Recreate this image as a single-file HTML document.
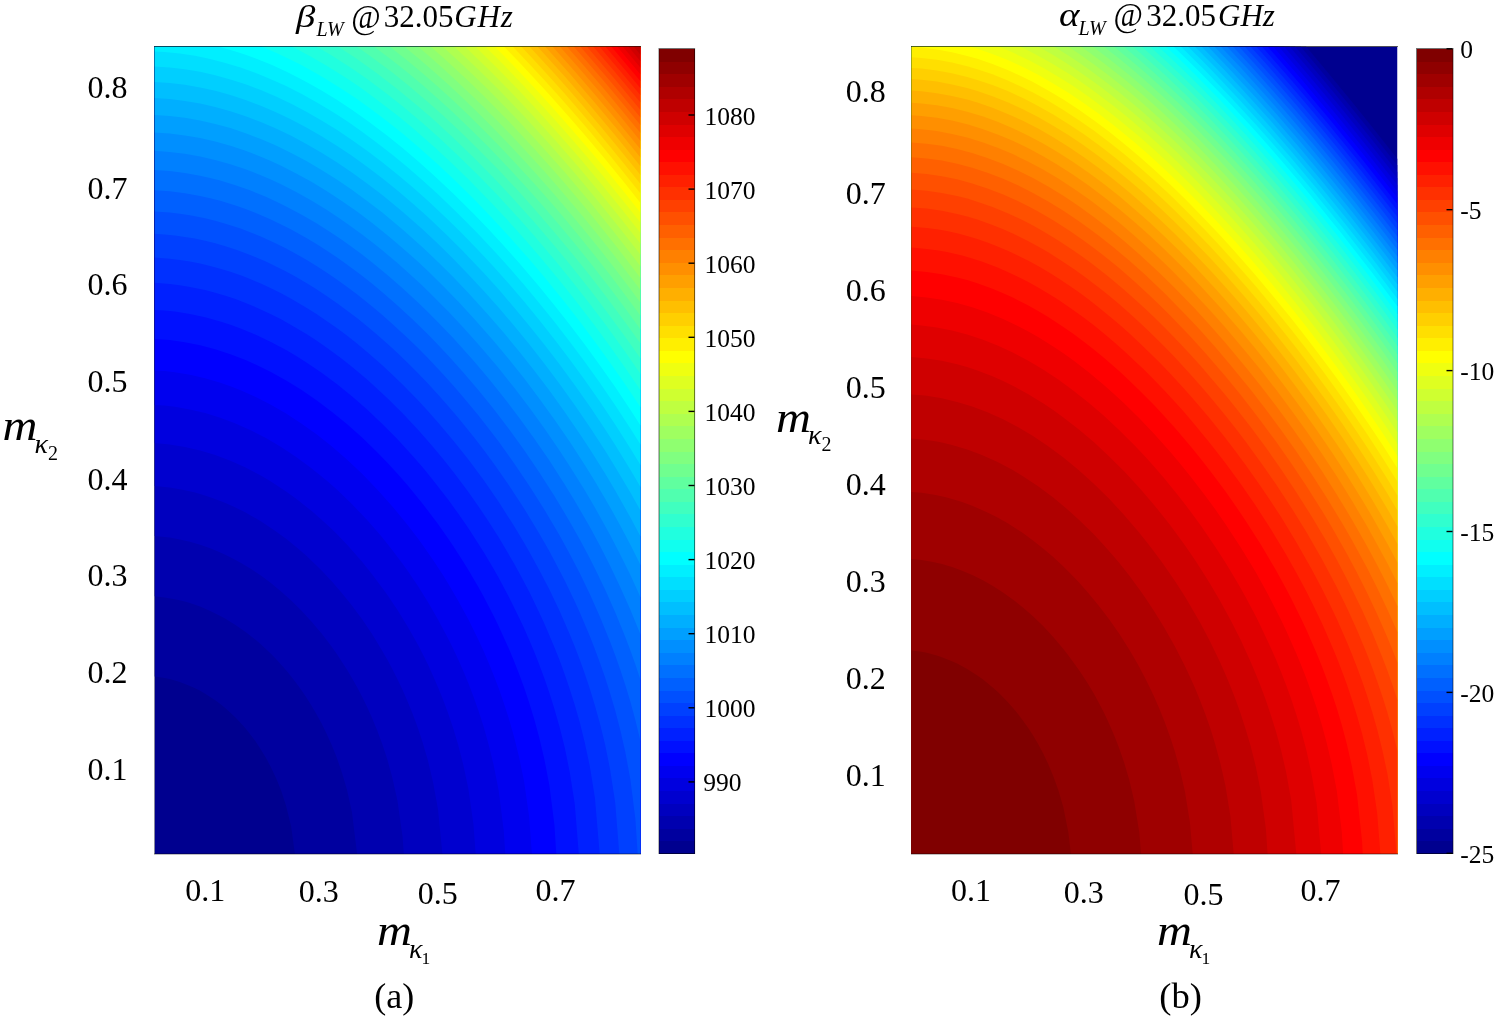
<!DOCTYPE html>
<html><head><meta charset="utf-8"><title>fig</title>
<style>
html,body{margin:0;padding:0;background:#fff}
body{width:1495px;height:1017px;position:relative;overflow:hidden;font-family:"Liberation Serif",serif}
svg .fr{fill:none;stroke:rgba(0,0,0,.55);stroke-width:1}
.cb{position:absolute}
svg{position:absolute;left:0;top:0;will-change:transform}
svg text{font-family:"Liberation Serif",serif;fill:#000}
svg line{stroke:#000;stroke-width:1.4}
svg .f1{stroke:rgba(0,0,0,.6);stroke-width:1.2}
svg .f2{stroke:rgba(0,0,0,.5);stroke-width:1.2}
svg .f3{stroke:rgba(0,0,0,.3);stroke-width:1}
</style></head><body>
<div class="cb" style="left:659px;top:48.5px;width:35.6px;height:805px;background:linear-gradient(180deg,#800000 0.00%,#800000 1.56%,#8f0000 1.56%,#8f0000 3.12%,#9f0000 3.12%,#9f0000 4.69%,#af0000 4.69%,#af0000 6.25%,#bf0000 6.25%,#bf0000 7.81%,#cf0000 7.81%,#cf0000 9.38%,#df0000 9.38%,#df0000 10.94%,#ef0000 10.94%,#ef0000 12.50%,#f00 12.50%,#f00 14.06%,#ff1000 14.06%,#ff1000 15.62%,#ff2000 15.62%,#ff2000 17.19%,#ff3000 17.19%,#ff3000 18.75%,#ff4000 18.75%,#ff4000 20.31%,#ff5000 20.31%,#ff5000 21.88%,#ff6000 21.88%,#ff6000 23.44%,#ff7000 23.44%,#ff7000 25.00%,#ff8000 25.00%,#ff8000 26.56%,#ff8f00 26.56%,#ff8f00 28.12%,#ff9f00 28.12%,#ff9f00 29.69%,#ffaf00 29.69%,#ffaf00 31.25%,#ffbf00 31.25%,#ffbf00 32.81%,#ffcf00 32.81%,#ffcf00 34.38%,#ffdf00 34.38%,#ffdf00 35.94%,#ffef00 35.94%,#ffef00 37.50%,#ff0 37.50%,#ff0 39.06%,#efff10 39.06%,#efff10 40.62%,#dfff20 40.62%,#dfff20 42.19%,#cfff30 42.19%,#cfff30 43.75%,#bfff40 43.75%,#bfff40 45.31%,#afff50 45.31%,#afff50 46.88%,#9fff60 46.88%,#9fff60 48.44%,#8fff70 48.44%,#8fff70 50.00%,#80ff80 50.00%,#80ff80 51.56%,#70ff8f 51.56%,#70ff8f 53.12%,#60ff9f 53.12%,#60ff9f 54.69%,#50ffaf 54.69%,#50ffaf 56.25%,#40ffbf 56.25%,#40ffbf 57.81%,#30ffcf 57.81%,#30ffcf 59.38%,#20ffdf 59.38%,#20ffdf 60.94%,#10ffef 60.94%,#10ffef 62.50%,#0ff 62.50%,#0ff 64.06%,#00efff 64.06%,#00efff 65.62%,#00dfff 65.62%,#00dfff 67.19%,#00cfff 67.19%,#00cfff 68.75%,#00bfff 68.75%,#00bfff 70.31%,#00afff 70.31%,#00afff 71.88%,#009fff 71.88%,#009fff 73.44%,#008fff 73.44%,#008fff 75.00%,#0080ff 75.00%,#0080ff 76.56%,#0070ff 76.56%,#0070ff 78.12%,#0060ff 78.12%,#0060ff 79.69%,#0050ff 79.69%,#0050ff 81.25%,#0040ff 81.25%,#0040ff 82.81%,#0030ff 82.81%,#0030ff 84.38%,#0020ff 84.38%,#0020ff 85.94%,#0010ff 85.94%,#0010ff 87.50%,#00f 87.50%,#00f 89.06%,#0000ef 89.06%,#0000ef 90.62%,#0000df 90.62%,#0000df 92.19%,#0000cf 92.19%,#0000cf 93.75%,#0000bf 93.75%,#0000bf 95.31%,#0000af 95.31%,#0000af 96.88%,#00009f 96.88%,#00009f 98.44%,#00008f 98.44%,#00008f 100.00%)"></div>
<div class="cb" style="left:1416.5px;top:48.5px;width:36.5px;height:805px;background:linear-gradient(180deg,#800000 0.00%,#800000 1.56%,#8f0000 1.56%,#8f0000 3.12%,#9f0000 3.12%,#9f0000 4.69%,#af0000 4.69%,#af0000 6.25%,#bf0000 6.25%,#bf0000 7.81%,#cf0000 7.81%,#cf0000 9.38%,#df0000 9.38%,#df0000 10.94%,#ef0000 10.94%,#ef0000 12.50%,#f00 12.50%,#f00 14.06%,#ff1000 14.06%,#ff1000 15.62%,#ff2000 15.62%,#ff2000 17.19%,#ff3000 17.19%,#ff3000 18.75%,#ff4000 18.75%,#ff4000 20.31%,#ff5000 20.31%,#ff5000 21.88%,#ff6000 21.88%,#ff6000 23.44%,#ff7000 23.44%,#ff7000 25.00%,#ff8000 25.00%,#ff8000 26.56%,#ff8f00 26.56%,#ff8f00 28.12%,#ff9f00 28.12%,#ff9f00 29.69%,#ffaf00 29.69%,#ffaf00 31.25%,#ffbf00 31.25%,#ffbf00 32.81%,#ffcf00 32.81%,#ffcf00 34.38%,#ffdf00 34.38%,#ffdf00 35.94%,#ffef00 35.94%,#ffef00 37.50%,#ff0 37.50%,#ff0 39.06%,#efff10 39.06%,#efff10 40.62%,#dfff20 40.62%,#dfff20 42.19%,#cfff30 42.19%,#cfff30 43.75%,#bfff40 43.75%,#bfff40 45.31%,#afff50 45.31%,#afff50 46.88%,#9fff60 46.88%,#9fff60 48.44%,#8fff70 48.44%,#8fff70 50.00%,#80ff80 50.00%,#80ff80 51.56%,#70ff8f 51.56%,#70ff8f 53.12%,#60ff9f 53.12%,#60ff9f 54.69%,#50ffaf 54.69%,#50ffaf 56.25%,#40ffbf 56.25%,#40ffbf 57.81%,#30ffcf 57.81%,#30ffcf 59.38%,#20ffdf 59.38%,#20ffdf 60.94%,#10ffef 60.94%,#10ffef 62.50%,#0ff 62.50%,#0ff 64.06%,#00efff 64.06%,#00efff 65.62%,#00dfff 65.62%,#00dfff 67.19%,#00cfff 67.19%,#00cfff 68.75%,#00bfff 68.75%,#00bfff 70.31%,#00afff 70.31%,#00afff 71.88%,#009fff 71.88%,#009fff 73.44%,#008fff 73.44%,#008fff 75.00%,#0080ff 75.00%,#0080ff 76.56%,#0070ff 76.56%,#0070ff 78.12%,#0060ff 78.12%,#0060ff 79.69%,#0050ff 79.69%,#0050ff 81.25%,#0040ff 81.25%,#0040ff 82.81%,#0030ff 82.81%,#0030ff 84.38%,#0020ff 84.38%,#0020ff 85.94%,#0010ff 85.94%,#0010ff 87.50%,#00f 87.50%,#00f 89.06%,#0000ef 89.06%,#0000ef 90.62%,#0000df 90.62%,#0000df 92.19%,#0000cf 92.19%,#0000cf 93.75%,#0000bf 93.75%,#0000bf 95.31%,#0000af 95.31%,#0000af 96.88%,#00009f 96.88%,#00009f 98.44%,#00008f 98.44%,#00008f 100.00%)"></div>
<svg width="1495" height="1017" viewBox="0 0 1495 1017">
<defs><clipPath id="ca"><rect x="154.5" y="46.5" width="486" height="807.5" /></clipPath><clipPath id="cb"><rect x="911.5" y="46.5" width="486" height="807.5" /></clipPath></defs>
<g clip-path="url(#ca)">
<rect x="154.5" y="46.5" width="486" height="807.5" fill="#00008f"/>
<path fill="#00009f" d="M154.5 676.5L164.6 678L169.7 679.1L179.8 682L189.9 685.9L195 688.2L200.1 690.8L205.1 693.7L210.2 696.9L215.2 700.3L220.3 704.1L225.4 708.2L230.4 712.7L235.5 717.6L240.6 722.9L245.6 728.6L250.7 734.9L255.8 741.8L260.8 749.4L265.9 757.8L270.9 767.3L276 778L281.1 790.6L286.1 805.9L291.2 826.8L294.9 854L640.5 854L640.5 46.5L154.5 46.5z"/>
<path fill="#0000af" d="M154.5 596.2L164.6 597.4L174.8 599.2L184.9 601.6L189.9 603.1L200.1 606.6L210.2 610.9L220.3 615.9L225.4 618.7L235.5 624.9L245.6 631.9L255.8 639.9L260.8 644.2L270.9 653.8L276 658.9L286.1 670.3L291.2 676.5L296.2 683L301.3 690.1L306.4 697.5L311.4 705.6L316.5 714.2L321.6 723.6L326.6 733.8L331.7 745.1L336.8 757.8L341.8 772.3L346.9 789.6L351.9 812.1L357.1 854L640.5 854L640.5 46.5L154.5 46.5z"/>
<path fill="#0000bf" d="M154.5 536L164.6 536.9L169.7 537.6L179.8 539.4L189.9 541.8L200.1 544.7L210.2 548.3L220.3 552.5L230.4 557.3L240.6 562.7L250.7 568.8L260.8 575.6L270.9 583.1L281.1 591.4L291.2 600.5L301.3 610.5L311.4 621.4L321.6 633.5L331.7 646.8L336.8 654L346.9 669.5L351.9 678L357 687L362.1 696.7L367.1 707.1L372.2 718.3L377.2 730.6L382.3 744.3L387.4 759.8L392.4 778.1L397.5 801.1L402.6 837L403.8 854L640.5 854L640.5 46.5L154.5 46.5z"/>
<path fill="#0000cf" d="M154.5 486.1L164.6 487L169.7 487.6L179.8 489.2L184.9 490.2L195 492.6L200.1 494L210.2 497.2L220.3 500.9L225.4 503L235.5 507.5L245.6 512.6L250.7 515.4L260.8 521.3L270.9 527.9L276 531.4L286.1 538.8L296.2 547L306.4 555.8L316.5 565.4L321.6 570.5L331.7 581.2L341.8 592.9L351.9 605.5L362.1 619.3L372.2 634.3L382.3 650.9L387.4 659.8L392.4 669.3L397.5 679.3L402.6 690L407.6 701.5L412.7 714L417.8 727.7L422.8 743L427.9 760.5L432.9 781.5L438 809.2L442.4 854L640.5 854L640.5 46.5L154.5 46.5z"/>
<path fill="#0000df" d="M154.5 443.1L169.7 444.4L184.9 446.9L200.1 450.4L215.2 455L230.4 460.7L245.6 467.5L260.8 475.5L270.9 481.4L286.1 491.4L296.2 498.7L311.4 510.8L321.6 519.7L331.7 529.1L336.8 534.1L346.9 544.6L357 555.9L362.1 561.8L372.2 574.4L382.3 587.9L387.4 595L397.5 610.1L407.6 626.6L417.8 644.6L422.8 654.3L427.9 664.6L432.9 675.5L438 687.2L443.1 699.7L448.1 713.3L453.2 728.3L458.2 745.1L463.3 764.7L468.4 788.8L473.4 823.8L475.7 854L640.5 854L640.5 46.5L154.5 46.5z"/>
<path fill="#0000ef" d="M154.5 404.9L164.6 405.6L174.8 406.8L189.9 409.5L205.1 413.1L220.3 417.8L235.5 423.5L250.7 430.3L265.9 438.1L281.1 447L296.2 457L311.4 468.2L326.6 480.6L336.8 489.5L351.9 504.1L367.1 520L377.2 531.6L382.3 537.6L392.4 550.2L402.6 563.7L407.6 570.8L417.8 585.8L427.9 601.9L438 619.4L448.1 638.5L453.2 648.7L458.2 659.6L463.3 671L468.4 683.3L473.4 696.5L478.5 710.8L483.6 726.6L488.6 744.4L493.7 765.2L498.8 791.3L503.8 831.2L505.3 854L640.5 854L640.5 46.5L154.5 46.5z"/>
<path fill="#00f" d="M154.5 370.4L164.6 371.1L174.8 372.3L189.9 374.8L205.1 378.3L220.3 382.8L230.4 386.3L240.6 390.3L255.8 397L270.9 404.8L286.1 413.6L301.3 423.4L316.5 434.3L331.7 446.3L346.9 459.4L362.1 473.8L377.2 489.4L392.4 506.4L407.6 524.9L417.8 538.2L422.8 545.2L432.9 559.8L443.1 575.3L448.1 583.5L458.2 600.8L468.4 619.5L478.5 640L483.6 651.1L488.6 662.7L493.7 675.2L498.8 688.5L503.8 702.9L508.9 718.7L513.9 736.3L519 756.7L524.1 781.6L529.1 816.4L531.9 854L640.5 854L640.5 46.5L154.5 46.5z"/>
<path fill="#0010ff" d="M154.5 338.9L169.7 340.1L184.9 342.2L200.1 345.3L215.2 349.3L230.4 354.2L245.6 360.1L260.8 366.9L270.9 372L286.1 380.4L301.3 389.8L316.5 400.2L331.7 411.7L346.9 424.1L362.1 437.6L377.2 452.3L387.4 462.8L397.5 473.8L407.6 485.3L422.8 503.9L438 524L448.1 538.4L453.2 546L463.3 561.7L468.4 570L478.5 587.3L483.6 596.5L493.7 616L498.8 626.4L508.9 648.7L513.9 660.8L519 673.7L524.1 687.5L529.1 702.5L534.2 719L539.2 737.4L544.3 758.9L549.4 785.4L554.4 824.8L556.3 854L640.5 854L640.5 46.5L154.5 46.5z"/>
<path fill="#0020ff" d="M154.5 309.9L164.6 310.5L174.8 311.6L189.9 314L205.1 317.2L220.3 321.4L230.4 324.7L240.6 328.4L255.8 334.7L270.9 342L286.1 350.1L296.2 356.1L306.4 362.4L321.6 372.7L336.8 384L351.9 396.3L367.1 409.6L382.3 423.9L397.5 439.3L412.7 455.9L422.8 467.6L432.9 480L448.1 499.6L458.2 513.6L468.4 528.3L478.5 543.9L483.6 552.1L493.7 569.1L498.8 578.1L508.9 597L519 617.4L524.1 628.3L529.1 639.8L534.2 651.8L539.2 664.6L544.3 678.3L549.4 693L554.4 709L559.5 726.8L564.6 747.1L569.6 771.4L574.7 803.6L578.8 854L640.5 854L640.5 46.5L154.5 46.5z"/>
<path fill="#0030ff" d="M154.5 282.8L169.7 284L179.8 285.2L189.9 286.9L205.1 290.1L215.2 292.7L225.4 295.7L235.5 299.1L245.6 302.9L260.8 309.4L270.9 314.2L281.1 319.3L296.2 327.9L306.4 334L316.5 340.6L331.7 351.2L341.8 358.8L351.9 366.8L367.1 379.6L377.2 388.7L387.4 398.2L402.6 413.3L417.8 429.4L432.9 446.7L443.1 458.9L453.2 471.7L468.4 492L478.5 506.4L488.6 521.6L498.8 537.5L503.8 545.9L513.9 563.3L519 572.4L529.1 591.6L539.2 612.4L544.3 623.5L554.4 647.2L559.5 660.1L564.6 673.9L569.6 688.7L574.7 704.8L579.8 722.5L584.8 742.7L589.9 766.7L594.9 797.8L599.7 854L640.5 854L640.5 46.5L154.5 46.5z"/>
<path fill="#0040ff" d="M154.5 257.6L169.7 258.7L179.8 259.9L189.9 261.5L200.1 263.5L210.2 265.9L220.3 268.7L230.4 271.8L240.6 275.3L250.7 279.3L260.8 283.6L270.9 288.2L281.1 293.3L291.2 298.8L306.4 307.7L316.5 314.1L326.6 320.9L336.8 328.1L346.9 335.6L357 343.6L367.1 352L382.3 365.3L392.4 374.7L402.6 384.5L417.8 400L427.9 411L438 422.4L453.2 440.4L468.4 459.6L483.6 480.1L498.8 502.1L513.9 525.8L524.1 542.7L529.1 551.5L539.2 569.9L549.4 589.6L559.5 610.8L569.6 634L574.7 646.5L579.8 659.7L584.8 673.7L589.9 688.9L594.9 705.4L600 723.7L605.1 744.5L610.1 769.4L615.2 802.5L619.3 854L640.5 854L640.5 46.5L154.5 46.5z"/>
<path fill="#0050ff" d="M154.5 233.8L164.6 234.5L174.8 235.5L184.9 236.9L195 238.6L205.1 240.8L215.2 243.3L225.4 246.2L235.5 249.5L245.6 253.2L255.8 257.2L265.9 261.6L276 266.4L286.1 271.6L296.2 277.1L306.4 283L316.5 289.3L326.6 295.9L336.8 303L346.9 310.4L357 318.1L367.1 326.3L377.2 334.8L387.4 343.8L397.5 353.1L407.6 362.8L417.8 373L427.9 383.5L438 394.5L448.1 405.9L458.2 417.8L473.4 436.6L483.6 449.7L493.7 463.5L508.9 485.2L524.1 508.4L539.2 533.5L549.4 551.3L554.4 560.7L564.6 580.2L574.7 601.3L579.8 612.4L589.9 636.3L594.9 649.2L600 662.9L605.1 677.5L610.1 693.3L615.2 710.5L620.2 729.8L625.3 752.1L630.4 779.5L635.4 819.2L637.7 854L640.5 854L640.5 46.5L154.5 46.5z"/>
<path fill="#0060ff" d="M154.5 211.4L169.7 212.5L179.8 213.7L189.9 215.2L205.1 218.3L215.2 220.8L225.4 223.7L240.6 228.6L250.7 232.4L260.8 236.6L276 243.5L286.1 248.6L296.2 254L306.4 259.8L316.5 266L326.6 272.5L336.8 279.4L346.9 286.7L357 294.3L372.2 306.4L382.3 315L392.4 323.9L407.6 337.9L417.8 347.8L427.9 358.1L443.1 374.2L453.2 385.5L463.3 397.2L478.5 415.6L488.6 428.5L498.8 441.8L513.9 462.9L529.1 485.4L544.3 509.4L559.5 535.3L569.6 553.7L579.8 573.3L589.9 594.3L600 617L610.1 641.8L615.2 655.3L620.2 669.6L625.3 685L630.4 701.7L635.4 720.2L640.5 741.3L640.5 46.5L154.5 46.5z"/>
<path fill="#0070ff" d="M154.5 190.2L169.7 191.3L184.9 193.2L200.1 195.9L210.2 198.2L220.3 200.8L235.5 205.5L245.6 209L255.8 213L270.9 219.5L281.1 224.4L291.2 229.5L306.4 238L316.5 244.1L326.6 250.5L336.8 257.3L346.9 264.4L362.1 275.8L372.2 283.8L382.3 292.2L397.5 305.4L412.7 319.4L427.9 334.3L438 344.7L448.1 355.5L463.3 372.4L478.5 390.2L493.7 409L508.9 428.9L524.1 449.9L539.2 472.2L554.4 495.9L569.6 521.4L579.8 539.4L589.9 558.5L594.9 568.5L605.1 589.6L615.2 612.3L625.3 637L630.4 650.4L635.4 664.6L640.5 679.9L640.5 46.5L154.5 46.5z"/>
<path fill="#0080ff" d="M154.5 170L169.7 171.1L184.9 173L200.1 175.7L210.2 177.9L220.3 180.6L235.5 185.2L250.7 190.6L265.9 196.8L276 201.4L286.1 206.4L301.3 214.4L316.5 223.3L331.7 232.9L341.8 239.8L351.9 247L362.1 254.5L372.2 262.4L387.4 274.9L402.6 288.2L417.8 302.2L427.9 312L438 322.2L453.2 338.1L463.3 349.2L473.4 360.6L488.6 378.6L503.8 397.5L519 417.4L534.2 438.4L549.4 460.6L564.6 484.2L574.7 500.7L589.9 527.1L600 545.8L610.1 565.7L620.2 586.9L630.4 609.7L640.5 634.6L640.5 46.5L154.5 46.5z"/>
<path fill="#008fff" d="M154.5 150.8L169.7 151.9L184.9 153.7L200.1 156.4L215.2 159.9L230.4 164.2L245.6 169.3L260.8 175.2L270.9 179.6L281.1 184.3L296.2 192L311.4 200.6L326.6 209.8L336.8 216.4L346.9 223.4L362.1 234.4L372.2 242.2L382.3 250.3L397.5 263.1L412.7 276.7L422.8 286.1L432.9 295.9L448.1 311.3L463.3 327.4L478.5 344.4L488.6 356.2L498.8 368.3L513.9 387.3L529.1 407.3L544.3 428.3L559.5 450.4L569.6 465.9L584.8 490.3L594.9 507.5L610.1 534.9L620.2 554.4L630.4 575.1L640.5 597.3L640.5 46.5L154.5 46.5z"/>
<path fill="#009fff" d="M154.5 132.5L169.7 133.5L184.9 135.4L200.1 138L215.2 141.5L230.4 145.8L245.6 150.8L260.8 156.7L270.9 161L281.1 165.7L296.2 173.4L311.4 181.8L326.6 191L341.8 200.9L357 211.6L372.2 223L387.4 235.2L397.5 243.7L407.6 252.5L417.8 261.6L427.9 271.1L443.1 286L458.2 301.6L473.4 317.9L493.7 341L508.9 359.2L524.1 378.3L539.2 398.4L554.4 419.4L569.6 441.6L584.8 465L594.9 481.3L610.1 507.2L620.2 525.5L630.4 544.7L640.5 565.1L640.5 46.5L154.5 46.5z"/>
<path fill="#00afff" d="M154.5 114.9L169.7 116L184.9 117.8L200.1 120.5L215.2 123.9L230.4 128.1L245.6 133.2L260.8 139L276 145.6L291.2 152.9L306.4 161L321.6 169.9L336.8 179.5L351.9 189.8L367.1 200.9L382.3 212.6L392.4 220.9L402.6 229.4L422.8 247.5L438 261.9L453.2 277L468.4 292.9L488.6 315.2L503.8 332.8L519 351.2L534.2 370.4L549.4 390.6L564.6 411.7L579.8 433.9L589.9 449.3L605.1 473.6L615.2 490.5L630.4 517.5L640.5 536.5L640.5 46.5L154.5 46.5z"/>
<path fill="#00bfff" d="M154.5 98.1L169.7 99.1L184.9 101L200.1 103.6L215.2 107L230.4 111.2L245.6 116.2L260.8 122L276 128.5L291.2 135.8L306.4 143.9L321.6 152.7L336.8 162.2L351.9 172.5L367.1 183.4L382.3 195.1L402.6 211.7L422.8 229.6L438 243.8L453.2 258.7L468.4 274.4L483.6 290.7L498.8 307.7L513.9 325.5L529.1 344.1L544.3 363.5L559.5 383.8L574.7 405L589.9 427.2L605.1 450.6L615.2 466.9L630.4 492.6L640.5 510.6L640.5 46.5L154.5 46.5z"/>
<path fill="#00cfff" d="M154.5 81.9L169.7 83L184.9 84.8L200.1 87.4L215.2 90.8L230.4 95L245.6 100L260.8 105.7L276 112.2L291.2 119.5L306.4 127.5L321.6 136.2L336.8 145.7L351.9 155.8L367.1 166.7L382.3 178.3L397.5 190.6L412.7 203.5L427.9 217.1L448.1 236.3L463.3 251.5L483.6 272.8L498.8 289.6L513.9 307.2L529.1 325.4L544.3 344.4L559.5 364.3L574.7 385L589.9 406.6L605.1 429.3L615.2 445L630.4 469.7L640.5 486.9L640.5 46.5L154.5 46.5z"/>
<path fill="#00dfff" d="M154.5 66.4L169.7 67.4L184.9 69.2L200.1 71.8L215.2 75.2L230.4 79.4L245.6 84.3L260.8 90L276 96.5L291.2 103.7L306.4 111.7L321.6 120.4L336.8 129.8L351.9 139.9L367.1 150.7L382.3 162.2L397.5 174.4L412.7 187.2L427.9 200.7L448.1 219.7L463.3 234.8L478.5 250.4L493.7 266.8L508.9 283.8L524.1 301.6L539.2 320L554.4 339.2L569.6 359.2L584.8 380L600 401.8L615.2 424.5L630.4 448.4L640.5 465L640.5 46.5L154.5 46.5z"/>
<path fill="#00efff" d="M154.5 51.4L164.6 52L179.8 53.5L195 55.8L210.2 59L225.4 62.9L240.6 67.5L255.8 73L270.9 79.2L286.1 86.1L301.3 93.8L316.5 102.2L331.7 111.3L346.9 121.1L362.1 131.7L377.2 142.9L392.4 154.7L407.6 167.2L422.8 180.4L438 194.2L458.2 213.7L478.5 234.2L493.7 250.4L508.9 267.2L524.1 284.7L539.2 302.9L554.4 321.8L569.6 341.4L584.8 361.8L600 383.1L615.2 405.3L630.4 428.5L640.5 444.6L640.5 46.5L154.5 46.5z"/>
<path fill="#0ff" d="M154.5 46.5L218.5 46.5L235.5 51.4L245.6 54.7L255.8 58.4L270.9 64.6L286.1 71.5L301.3 79.2L311.4 84.7L321.6 90.5L336.8 99.8L351.9 109.8L367.1 120.5L387.4 135.8L402.6 148L417.8 160.9L432.9 174.4L453.2 193.4L473.4 213.5L488.6 229.3L503.8 245.7L519 262.8L539.2 286.6L554.4 305.2L569.6 324.5L584.8 344.6L600 365.4L615.2 387.1L630.4 409.7L640.5 425.4L640.5 46.5L154.5 46.5z"/>
<path fill="#10ffef" d="M154.5 46.5L261.1 46.5L276 52.8L291.2 59.9L301.3 65.1L316.5 73.4L326.6 79.4L341.8 88.9L357 99.1L372.2 109.9L387.4 121.4L402.6 133.6L417.8 146.4L438 164.4L453.2 178.7L473.4 198.6L493.7 219.7L508.9 236.2L529.1 259.1L544.3 277L564.6 302L579.8 321.5L594.9 341.7L610.1 362.7L625.3 384.5L640.5 407.3L640.5 46.5L154.5 46.5z"/>
<path fill="#20ffdf" d="M154.5 46.5L291.6 46.5L301.3 51.4L311.4 56.9L326.6 65.7L341.8 75.2L351.9 81.8L362.1 88.8L377.2 99.9L397.5 115.6L412.7 128.1L432.9 145.8L448.1 159.7L468.4 179.3L488.6 199.9L503.8 216L524.1 238.5L539.2 256L559.5 280.4L574.7 299.4L594.9 325.8L610.1 346.5L625.3 367.9L640.5 390.2L640.5 46.5L154.5 46.5z"/>
<path fill="#30ffcf" d="M154.5 46.5L316.4 46.5L331.7 55.5L341.8 61.9L351.9 68.6L367.1 79.1L387.4 94.2L402.6 106.3L422.8 123.3L438 136.8L458.2 155.7L478.5 175.6L498.8 196.6L519 218.6L534.2 235.8L554.4 259.6L569.6 278.2L589.9 304L605.1 324.1L625.3 352L640.5 373.9L640.5 46.5L154.5 46.5z"/>
<path fill="#40ffbf" d="M154.5 46.5L337.8 46.5L341.8 49.1L357 59.1L377.2 73.6L397.5 89.2L417.8 105.9L432.9 119.1L453.2 137.7L473.4 157.2L493.7 177.8L513.9 199.4L534.2 222L554.4 245.7L569.6 264.1L589.9 289.5L605.1 309.4L625.3 336.9L640.5 358.4L640.5 46.5L154.5 46.5z"/>
<path fill="#50ffaf" d="M154.5 46.5L356.7 46.5L372.2 57.4L392.4 72.6L407.6 84.8L427.9 102L443.1 115.5L463.3 134.5L478.5 149.4L498.8 170.1L519 191.8L534.2 208.8L554.4 232.2L569.6 250.4L589.9 275.6L605.1 295.3L625.3 322.4L640.5 343.6L640.5 46.5L154.5 46.5z"/>
<path fill="#60ff9f" d="M154.5 46.5L373.9 46.5L392.4 60.5L407.6 72.6L422.8 85.3L438 98.7L453.2 112.5L473.4 131.9L488.6 147.1L508.9 168.2L529.1 190.3L544.3 207.5L559.5 225.2L574.7 243.4L594.9 268.7L610.1 288.3L625.3 308.5L640.5 329.4L640.5 46.5L154.5 46.5z"/>
<path fill="#70ff8f" d="M154.5 46.5L389.6 46.5L407.6 60.8L422.8 73.5L438 86.7L453.2 100.6L468.4 115L483.6 129.9L498.8 145.4L513.9 161.4L534.2 183.6L549.4 200.8L564.6 218.6L579.8 236.9L594.9 255.7L610.1 275.1L625.3 295.2L640.5 315.8L640.5 46.5L154.5 46.5z"/>
<path fill="#80ff80" d="M154.5 46.5L404.2 46.5L417.8 57.7L432.9 70.7L448.1 84.3L463.3 98.5L478.5 113.2L493.7 128.4L508.9 144.2L524.1 160.4L539.2 177.2L554.4 194.5L569.6 212.4L584.8 230.7L600 249.6L615.2 269L630.4 289L640.5 302.7L640.5 46.5L154.5 46.5z"/>
<path fill="#8fff70" d="M154.5 46.5L417.8 46.5L427.9 55.1L443.1 68.5L458.2 82.4L473.4 96.9L483.6 106.8L498.8 122.2L513.9 138L529.1 154.4L544.3 171.3L559.5 188.7L584.8 218.7L600 237.5L615.2 256.7L640.5 290.1L640.5 46.5L154.5 46.5z"/>
<path fill="#9fff60" d="M154.5 46.5L430.5 46.5L443.1 57.6L458.2 71.5L468.4 81L483.6 95.8L508.9 121.6L534.2 148.7L549.4 165.7L564.6 183.1L589.9 213.3L615.2 244.9L640.5 277.9L640.5 46.5L154.5 46.5z"/>
<path fill="#afff50" d="M154.5 46.5L442.6 46.5L463.3 65.5L473.4 75.2L488.6 90.1L513.9 116L539.2 143.4L564.6 172L589.9 202L615.2 233.4L640.5 266.2L640.5 46.5L154.5 46.5z"/>
<path fill="#bfff40" d="M154.5 46.5L454 46.5L478.5 69.7L498.8 89.8L524.1 116.2L549.4 144L574.7 173L594.9 197.2L620.2 228.7L640.5 254.8L640.5 46.5L154.5 46.5z"/>
<path fill="#cfff30" d="M154.5 46.5L464.9 46.5L488.6 69.5L508.9 90L529.1 111.4L554.4 139.3L579.8 168.5L600 192.7L620.2 217.8L640.5 243.8L640.5 46.5L154.5 46.5z"/>
<path fill="#dfff20" d="M154.5 46.5L475.3 46.5L498.8 69.7L519 90.6L539.2 112.3L559.5 134.9L579.8 158.2L600 182.4L620.2 207.3L640.5 233.1L640.5 46.5L154.5 46.5z"/>
<path fill="#efff10" d="M154.5 46.5L485.2 46.5L503.8 65.1L524.1 86.2L544.3 108.1L564.6 130.7L584.8 154.2L605.1 178.4L625.3 203.4L640.5 222.7L640.5 46.5L154.5 46.5z"/>
<path fill="#ff0" d="M154.5 46.5L494.7 46.5L513.9 66.1L534.2 87.5L549.4 104.1L569.6 126.9L589.9 150.4L605.1 168.6L625.3 193.5L640.5 212.7L640.5 46.5L154.5 46.5z"/>
<path fill="#ffef00" d="M154.5 46.5L503.9 46.5L519 62.1L534.2 78.2L549.4 94.7L569.6 117.4L584.8 135L605.1 159L625.3 183.8L640.5 202.9L640.5 46.5L154.5 46.5z"/>
<path fill="#ffdf00" d="M154.5 46.5L512.7 46.5L529.1 63.7L544.3 80.1L559.5 96.8L574.7 114L589.9 131.6L610.1 155.8L625.3 174.4L640.5 193.4L640.5 46.5L154.5 46.5z"/>
<path fill="#ffcf00" d="M154.5 46.5L521.2 46.5L534.2 60.2L549.4 76.7L564.6 93.6L579.8 110.9L594.9 128.6L610.1 146.7L625.3 165.2L640.5 184.1L640.5 46.5L154.5 46.5z"/>
<path fill="#ffbf00" d="M154.5 46.5L529.4 46.5L554.4 73.6L569.6 90.5L584.8 107.9L600 125.7L615.2 143.9L640.5 175.1L640.5 46.5L154.5 46.5z"/>
<path fill="#ffaf00" d="M154.5 46.5L537.4 46.5L564.6 76.3L589.9 105.2L615.2 135.2L640.5 166.2L640.5 46.5L154.5 46.5z"/>
<path fill="#ff9f00" d="M154.5 46.5L545.1 46.5L569.6 73.6L594.9 102.7L620.2 132.8L640.5 157.6L640.5 46.5L154.5 46.5z"/>
<path fill="#ff8f00" d="M154.5 46.5L552.5 46.5L574.7 71.2L594.9 94.4L615.2 118.4L640.5 149.2L640.5 46.5L154.5 46.5z"/>
<path fill="#ff8000" d="M154.5 46.5L559.8 46.5L579.8 68.9L600 92.3L620.2 116.3L640.5 141L640.5 46.5L154.5 46.5z"/>
<path fill="#ff7000" d="M154.5 46.5L566.8 46.5L584.8 66.8L605.1 90.3L620.2 108.4L640.5 133L640.5 46.5L154.5 46.5z"/>
<path fill="#ff6000" d="M154.5 46.5L573.7 46.5L589.9 64.9L605.1 82.6L620.2 100.6L640.5 125.1L640.5 46.5L154.5 46.5z"/>
<path fill="#ff5000" d="M154.5 46.5L580.3 46.5L610.1 80.9L640.5 117.4L640.5 46.5L154.5 46.5z"/>
<path fill="#ff4000" d="M154.5 46.5L586.8 46.5L615.2 79.5L640.5 109.9L640.5 46.5L154.5 46.5z"/>
<path fill="#ff3000" d="M154.5 46.5L593.2 46.5L615.2 72.2L640.5 102.5L640.5 46.5L154.5 46.5z"/>
<path fill="#ff2000" d="M154.5 46.5L599.4 46.5L620.2 71L640.5 95.3L640.5 46.5L154.5 46.5z"/>
<path fill="#ff1000" d="M154.5 46.5L605.4 46.5L625.3 70L640.5 88.2L640.5 46.5L154.5 46.5z"/>
<path fill="#f00" d="M154.5 46.5L611.3 46.5L640.5 81.3L640.5 46.5L154.5 46.5z"/>
<path fill="#ef0000" d="M154.5 46.5L617.1 46.5L640.5 74.5L640.5 46.5L154.5 46.5z"/>
<path fill="#df0000" d="M154.5 46.5L622.7 46.5L640.5 67.8L640.5 46.5L154.5 46.5z"/>
<path fill="#cf0000" d="M154.5 46.5L628.2 46.5L640.5 61.2L640.5 46.5L154.5 46.5z"/>
<path fill="#bf0000" d="M154.5 46.5L633.6 46.5L640.5 54.7L640.5 46.5L154.5 46.5z"/>
<path fill="#af0000" d="M154.5 46.5L638.9 46.5L640.5 48.4L640.5 46.5L154.5 46.5z"/>
</g>
<g clip-path="url(#cb)">
<rect x="911.5" y="46.5" width="486" height="807.5" fill="#00008f"/>
<path fill="#00009f" d="M911.5 46.5L1306.1 46.5L1326.6 71L1351.9 101.8L1372.2 127L1397.5 159L1397.5 854L911.5 854z"/>
<path fill="#0000af" d="M911.5 46.5L1300.6 46.5L1321.6 71.4L1346.9 102.1L1372.2 133.5L1397.5 165.5L1397.5 854L911.5 854z"/>
<path fill="#0000bf" d="M911.5 46.5L1295.1 46.5L1321.6 77.8L1346.9 108.5L1372.2 140L1397.5 172L1397.5 854L911.5 854z"/>
<path fill="#0000cf" d="M911.5 46.5L1289.6 46.5L1316.5 78.1L1341.8 108.7L1367.1 140L1397.5 178.5L1397.5 854L911.5 854z"/>
<path fill="#0000df" d="M911.5 46.5L1284.1 46.5L1311.4 78.5L1341.8 115.1L1367.1 146.4L1397.5 185L1397.5 854L911.5 854z"/>
<path fill="#0000ef" d="M911.5 46.5L1278.6 46.5L1306.4 78.8L1336.8 115.2L1367.1 152.8L1397.5 191.4L1397.5 854L911.5 854z"/>
<path fill="#00f" d="M911.5 46.5L1273.1 46.5L1301.3 79.1L1331.7 115.4L1362.1 152.8L1397.5 197.8L1397.5 854L911.5 854z"/>
<path fill="#0010ff" d="M911.5 46.5L1267.5 46.5L1286.1 67.7L1301.3 85.4L1331.7 121.7L1362.1 159.2L1397.5 204.2L1397.5 854L911.5 854z"/>
<path fill="#0020ff" d="M911.5 46.5L1261.9 46.5L1291.2 79.9L1306.4 97.7L1326.6 121.9L1362.1 165.5L1397.5 210.7L1397.5 854L911.5 854z"/>
<path fill="#0030ff" d="M911.5 46.5L1256.2 46.5L1276 68.7L1291.2 86.2L1306.4 104L1326.6 128.2L1341.8 146.8L1362.1 171.9L1397.5 217.1L1397.5 854L911.5 854z"/>
<path fill="#0040ff" d="M911.5 46.5L1250.5 46.5L1265.9 63.6L1286.1 86.7L1301.3 104.4L1321.6 128.5L1336.8 146.9L1357 172L1377.2 197.6L1397.5 223.6L1397.5 854L911.5 854z"/>
<path fill="#0050ff" d="M911.5 46.5L1244.7 46.5L1260.8 64.2L1281.1 87.2L1296.2 104.8L1316.5 128.8L1336.8 153.3L1357 178.4L1377.2 204L1397.5 230.2L1397.5 854L911.5 854z"/>
<path fill="#0060ff" d="M911.5 46.5L1238.9 46.5L1255.8 65L1276 87.7L1296.2 111.1L1316.5 135.2L1336.8 159.7L1357 184.9L1377.2 210.5L1397.5 236.7L1397.5 854L911.5 854z"/>
<path fill="#0070ff" d="M911.5 46.5L1232.9 46.5L1250.7 65.8L1270.9 88.4L1291.2 111.6L1311.4 135.5L1331.7 160L1351.9 185L1377.2 217.1L1397.5 243.4L1397.5 854L911.5 854z"/>
<path fill="#0080ff" d="M911.5 46.5L1226.9 46.5L1245.6 66.6L1265.9 89.1L1286.1 112.2L1311.4 142L1331.7 166.5L1351.9 191.6L1377.2 223.7L1397.5 250.1L1397.5 854L911.5 854z"/>
<path fill="#008fff" d="M911.5 46.5L1220.7 46.5L1240.6 67.6L1260.8 89.9L1281.1 112.9L1306.4 142.5L1326.6 166.9L1351.9 198.2L1377.2 230.4L1397.5 256.8L1397.5 854L911.5 854z"/>
<path fill="#009fff" d="M911.5 46.5L1214.4 46.5L1235.5 68.7L1255.8 90.8L1276 113.6L1301.3 143L1321.6 167.3L1346.9 198.5L1372.2 230.6L1397.5 263.6L1397.5 854L911.5 854z"/>
<path fill="#00afff" d="M911.5 46.5L1208 46.5L1230.4 69.9L1255.8 97.4L1276 120.2L1301.3 149.7L1326.6 180.2L1351.9 211.6L1377.2 243.9L1397.5 270.5L1397.5 854L911.5 854z"/>
<path fill="#00bfff" d="M911.5 46.5L1201.5 46.5L1225.4 71.1L1245.6 92.9L1270.9 121.1L1296.2 150.4L1321.6 180.7L1346.9 212L1372.2 244.3L1397.5 277.5L1397.5 854L911.5 854z"/>
<path fill="#00cfff" d="M911.5 46.5L1194.8 46.5L1215.2 67.3L1240.6 94.1L1265.9 122.1L1291.2 151.2L1316.5 181.4L1346.9 218.9L1372.2 251.3L1397.5 284.6L1397.5 854L911.5 854z"/>
<path fill="#00dfff" d="M911.5 46.5L1187.9 46.5L1200.1 58.6L1215.2 74L1240.6 100.9L1265.9 128.9L1291.2 158.1L1316.5 188.3L1346.9 225.9L1372.2 258.3L1397.5 291.8L1397.5 854L911.5 854z"/>
<path fill="#00efff" d="M911.5 46.5L1180.8 46.5L1205.1 70.5L1230.4 96.9L1255.8 124.5L1270.9 141.6L1286.1 159.1L1311.4 189.1L1341.8 226.6L1372.2 265.5L1397.5 299.1L1397.5 854L911.5 854z"/>
<path fill="#0ff" d="M911.5 46.5L1173.5 46.5L1184.9 57.4L1200.1 72.4L1225.4 98.5L1250.7 125.8L1265.9 142.8L1281.1 160.2L1296.2 178L1311.4 196.2L1341.8 233.8L1372.2 272.8L1397.5 306.6L1397.5 854L911.5 854z"/>
<path fill="#10ffef" d="M911.5 46.5L1165.9 46.5L1179.8 59.6L1195 74.4L1220.3 100.2L1245.6 127.3L1260.8 144.2L1276 161.5L1291.2 179.2L1306.4 197.3L1321.6 215.8L1336.8 234.7L1351.9 254L1367.1 273.6L1382.3 293.7L1397.5 314.2L1397.5 854L911.5 854z"/>
<path fill="#20ffdf" d="M911.5 46.5L1158.1 46.5L1169.7 57.1L1184.9 71.6L1200.1 86.6L1215.2 102.1L1230.4 118.1L1245.6 134.5L1260.8 151.4L1276 168.7L1291.2 186.5L1306.4 204.6L1321.6 223.2L1336.8 242.1L1351.9 261.4L1367.1 281.2L1382.3 301.3L1397.5 321.9L1397.5 854L911.5 854z"/>
<path fill="#30ffcf" d="M911.5 46.5L1150 46.5L1164.6 59.7L1179.8 74L1195 88.8L1210.2 104.1L1225.4 120L1240.6 136.3L1255.8 153.1L1270.9 170.3L1286.1 187.9L1301.3 205.9L1316.5 224.4L1336.8 249.6L1351.9 269L1367.1 288.8L1382.3 309.1L1397.5 329.8L1397.5 854L911.5 854z"/>
<path fill="#40ffbf" d="M911.5 46.5L1141.6 46.5L1154.5 57.9L1169.7 71.8L1184.9 86.2L1200.1 101.2L1215.2 116.8L1230.4 132.8L1245.6 149.3L1265.9 171.9L1281.1 189.5L1296.2 207.4L1311.4 225.8L1331.7 250.9L1351.9 276.8L1367.1 296.7L1382.3 317L1397.5 337.9L1397.5 854L911.5 854z"/>
<path fill="#50ffaf" d="M911.5 46.5L1132.8 46.5L1149.4 60.9L1164.6 74.6L1179.8 88.9L1195 103.7L1210.2 119.1L1225.4 134.9L1240.6 151.3L1260.8 173.8L1276 191.2L1296.2 215.1L1316.5 239.8L1331.7 258.7L1351.9 284.7L1367.1 304.7L1382.3 325.2L1397.5 346.1L1397.5 854L911.5 854z"/>
<path fill="#60ff9f" d="M911.5 46.5L1123.5 46.5L1139.3 59.7L1154.5 73L1169.7 86.9L1189.9 106.3L1205.1 121.5L1220.3 137.3L1235.5 153.5L1255.8 175.8L1270.9 193.1L1291.2 216.9L1311.4 241.4L1326.6 260.3L1346.9 286.2L1362.1 306.2L1382.3 333.5L1397.5 354.6L1397.5 854L911.5 854z"/>
<path fill="#70ff8f" d="M911.5 46.5L1113.8 46.5L1129.2 58.9L1144.4 71.8L1159.6 85.4L1179.8 104.3L1195 119.2L1215.2 139.8L1230.4 155.9L1250.7 178.1L1265.9 195.3L1286.1 218.9L1306.4 243.3L1326.6 268.5L1346.9 294.5L1362.1 314.6L1382.3 342L1397.5 363.3L1397.5 854L911.5 854z"/>
<path fill="#80ff80" d="M911.5 46.5L1103.5 46.5L1119.1 58.6L1134.2 71.1L1149.4 84.2L1169.7 102.7L1184.9 117.2L1205.1 137.4L1225.4 158.5L1245.6 180.5L1260.8 197.6L1281.1 221.1L1301.3 245.4L1321.6 270.5L1341.8 296.4L1362.1 323.2L1382.3 350.8L1397.5 372.2L1397.5 854L911.5 854z"/>
<path fill="#8fff70" d="M911.5 46.5L1092.5 46.5L1108.9 58.8L1129.2 75L1144.4 87.9L1164.6 106.1L1179.8 120.4L1200.1 140.4L1220.3 161.3L1240.6 183.2L1260.8 205.9L1281.1 229.4L1301.3 253.8L1321.6 279L1341.8 305.1L1362.1 332L1382.3 359.8L1397.5 381.4L1397.5 854L911.5 854z"/>
<path fill="#9fff60" d="M911.5 46.5L1080.7 46.5L1088.7 52.1L1103.9 63.2L1124.1 79.1L1139.3 91.8L1159.6 109.7L1174.8 123.9L1195 143.6L1215.2 164.4L1235.5 186L1255.8 208.6L1276 232L1296.2 256.3L1316.5 281.4L1336.8 307.3L1357 334.2L1377.2 362L1397.5 390.9L1397.5 854L911.5 854z"/>
<path fill="#afff50" d="M911.5 46.5L1067.9 46.5L1078.6 53.5L1093.8 64.2L1108.9 75.5L1129.2 91.8L1144.4 104.7L1164.6 122.9L1179.8 137.3L1200.1 157.3L1220.3 178.3L1240.6 200.2L1260.8 223.1L1281.1 246.8L1301.3 271.4L1321.6 296.8L1341.8 323.1L1362.1 350.4L1382.3 378.7L1397.5 400.7L1397.5 854L911.5 854z"/>
<path fill="#bfff40" d="M911.5 46.5L1053.8 46.5L1068.4 55.5L1078.6 62.2L1088.7 69.2L1103.9 80.4L1119.1 92.2L1139.3 109L1154.5 122.4L1174.8 141.2L1189.9 155.9L1210.2 176.5L1230.4 198L1250.7 220.5L1270.9 243.8L1291.2 268.1L1311.4 293.2L1326.6 312.6L1346.9 339.4L1362.1 360.1L1382.3 388.7L1397.5 410.9L1397.5 854L911.5 854z"/>
<path fill="#cfff30" d="M911.5 46.5L1038.1 46.5L1053.2 55.1L1063.4 61.2L1073.5 67.8L1088.7 78.2L1098.8 85.5L1108.9 93.2L1124.1 105.2L1144.4 122.3L1159.6 135.9L1179.8 155L1195 170L1215.2 190.9L1230.4 207.1L1250.7 229.7L1270.9 253.1L1291.2 277.5L1311.4 302.7L1326.6 322.3L1346.9 349.2L1362.1 370.1L1382.3 399L1397.5 421.4L1397.5 854L911.5 854z"/>
<path fill="#dfff20" d="M911.5 46.5L1020 46.5L1033 53L1043.1 58.4L1053.2 64.2L1068.4 73.6L1078.6 80.3L1088.7 87.3L1098.8 94.7L1114 106.3L1129.2 118.6L1149.4 136L1164.6 149.8L1184.9 169.2L1200.1 184.4L1220.3 205.6L1235.5 222.1L1255.8 244.9L1276 268.7L1296.2 293.4L1316.5 319.1L1331.7 338.9L1351.9 366.4L1367.1 387.7L1382.3 409.7L1397.5 432.4L1397.5 854L911.5 854z"/>
<path fill="#efff10" d="M911.5 46.5L998.3 46.5L1012.8 52.6L1027.9 59.8L1043.1 67.8L1058.3 76.7L1073.5 86.3L1088.7 96.7L1103.9 107.9L1114 115.7L1124.1 123.9L1139.3 136.6L1154.5 150.1L1169.7 164.1L1189.9 183.8L1205.1 199.2L1225.4 220.7L1240.6 237.4L1260.8 260.6L1281.1 284.7L1296.2 303.5L1316.5 329.3L1331.7 349.3L1351.9 377L1367.1 398.5L1382.3 420.8L1397.5 443.9L1397.5 854L911.5 854z"/>
<path fill="#ff0" d="M911.5 46.5L969.5 46.5L977.3 48.8L987.4 52.2L997.6 55.9L1007.7 60.1L1022.9 67L1038.1 74.8L1053.2 83.4L1068.4 92.8L1083.6 102.9L1098.8 113.8L1114 125.5L1134.2 142.1L1149.4 155.3L1164.6 169.2L1179.8 183.7L1200.1 203.9L1215.2 219.8L1235.5 241.8L1250.7 259L1270.9 282.8L1291.2 307.6L1306.4 326.8L1321.6 346.6L1336.8 367L1351.9 388.1L1367.1 409.9L1382.3 432.4L1397.5 455.9L1397.5 854L911.5 854z"/>
<path fill="#ffef00" d="M911.5 46.9L921.6 47.6L936.8 49.4L952 52.2L967.2 55.9L977.3 58.8L992.5 64L1007.7 70.1L1022.9 77L1033 82.1L1048.2 90.4L1063.4 99.6L1078.6 109.5L1093.8 120.2L1108.9 131.6L1124.1 143.7L1139.3 156.5L1154.5 170L1169.7 184.1L1184.9 198.8L1205.1 219.4L1220.3 235.6L1235.5 252.3L1255.8 275.4L1270.9 293.4L1291.2 318.3L1306.4 337.7L1321.6 357.7L1336.8 378.3L1351.9 399.6L1367.1 421.7L1382.3 444.6L1397.5 468.4L1397.5 854L911.5 854z"/>
<path fill="#ffdf00" d="M911.5 57.2L921.6 57.9L936.8 59.8L952 62.5L967.2 66.2L977.3 69.2L992.5 74.3L1007.7 80.4L1022.9 87.4L1033 92.5L1048.2 100.8L1063.4 109.9L1078.6 119.9L1093.8 130.6L1108.9 142L1124.1 154.1L1139.3 167L1154.5 180.5L1169.7 194.6L1184.9 209.4L1205.1 230.1L1220.3 246.3L1235.5 263.1L1255.8 286.3L1270.9 304.5L1291.2 329.6L1306.4 349.1L1321.6 369.3L1336.8 390.2L1351.9 411.7L1367.1 434.1L1382.3 457.4L1397.5 481.7L1397.5 854L911.5 854z"/>
<path fill="#ffcf00" d="M911.5 67.9L921.6 68.6L936.8 70.5L952 73.2L967.2 76.9L977.3 79.9L992.5 85.1L1007.7 91.1L1022.9 98.1L1038.1 105.9L1053.2 114.5L1068.4 123.9L1083.6 134.1L1098.8 145.1L1114 156.8L1129.2 169.2L1144.4 182.3L1159.6 196.1L1174.8 210.5L1189.9 225.5L1210.2 246.5L1225.4 263L1245.6 285.9L1260.8 303.8L1276 322.2L1296.2 347.8L1311.4 367.8L1326.6 388.4L1341.8 409.8L1357 431.9L1372.2 455L1387.4 479.1L1397.5 495.8L1397.5 854L911.5 854z"/>
<path fill="#ffbf00" d="M911.5 79.1L921.6 79.8L936.8 81.6L952 84.4L967.2 88L977.3 91L992.5 96.2L1007.7 102.3L1022.9 109.2L1038.1 117L1053.2 125.7L1068.4 135.1L1083.6 145.3L1098.8 156.3L1114 168L1129.2 180.5L1144.4 193.6L1159.6 207.4L1174.8 221.9L1189.9 237L1210.2 258.1L1225.4 274.7L1245.6 297.7L1260.8 315.7L1276 334.4L1296.2 360.2L1311.4 380.4L1326.6 401.3L1341.8 422.9L1357 445.5L1372.2 469L1387.4 493.6L1397.5 510.7L1397.5 854L911.5 854z"/>
<path fill="#ffaf00" d="M911.5 90.6L921.6 91.3L936.8 93.2L952 95.9L967.2 99.6L977.3 102.6L992.5 107.8L1007.7 113.9L1022.9 120.8L1038.1 128.6L1053.2 137.3L1068.4 146.7L1083.6 157L1098.8 168L1114 179.7L1129.2 192.2L1144.4 205.4L1159.6 219.3L1174.8 233.8L1189.9 249L1210.2 270.2L1230.4 292.6L1245.6 310.1L1265.9 334.5L1281.1 353.5L1296.2 373.2L1311.4 393.6L1326.6 414.8L1341.8 436.8L1357 459.8L1372.2 483.8L1387.4 509.1L1397.5 526.7L1397.5 854L911.5 854z"/>
<path fill="#ff9f00" d="M911.5 102.7L921.6 103.4L936.8 105.2L952 108L967.2 111.7L982.4 116.3L997.6 121.8L1012.8 128.2L1027.9 135.4L1043.1 143.6L1058.3 152.5L1073.5 162.2L1088.7 172.8L1103.9 184.1L1119.1 196.1L1134.2 208.9L1149.4 222.3L1164.6 236.5L1179.8 251.3L1195 266.8L1215.2 288.5L1235.5 311.3L1250.7 329.2L1265.9 347.7L1281.1 366.9L1296.2 386.9L1311.4 407.6L1326.6 429.2L1341.8 451.6L1357 475.1L1372.2 499.7L1387.4 525.7L1397.5 543.9L1397.5 854L911.5 854z"/>
<path fill="#ff8f00" d="M911.5 115.3L921.6 116L936.8 117.8L952 120.6L967.2 124.3L982.4 128.9L997.6 134.4L1012.8 140.8L1027.9 148.1L1043.1 156.2L1058.3 165.2L1073.5 175L1088.7 185.5L1103.9 196.9L1119.1 209L1134.2 221.8L1149.4 235.3L1164.6 249.5L1184.9 269.6L1200.1 285.4L1220.3 307.5L1240.6 330.8L1255.8 349.1L1270.9 368.1L1286.1 387.9L1301.3 408.4L1316.5 429.7L1331.7 452L1346.9 475.2L1362.1 499.7L1372.2 516.8L1387.4 543.7L1397.5 562.7L1397.5 854L911.5 854z"/>
<path fill="#ff8000" d="M911.5 128.5L921.6 129.2L936.8 131.1L952 133.9L967.2 137.6L982.4 142.2L997.6 147.7L1012.8 154.1L1027.9 161.4L1043.1 169.6L1058.3 178.6L1073.5 188.4L1088.7 199L1103.9 210.4L1119.1 222.5L1134.2 235.4L1154.5 253.7L1169.7 268.2L1189.9 288.7L1210.2 310.4L1225.4 327.5L1245.6 351.4L1260.8 370.1L1276 389.6L1291.2 409.9L1306.4 431.1L1321.6 453.2L1336.8 476.3L1351.9 500.6L1367.1 526.3L1377.2 544.4L1387.4 563.3L1397.5 583.3L1397.5 854L911.5 854z"/>
<path fill="#ff7000" d="M911.5 142.5L926.7 143.7L941.9 145.8L957.1 148.9L972.2 153L987.4 157.9L1002.6 163.7L1017.8 170.5L1033 178.1L1048.2 186.5L1063.4 195.8L1078.6 206L1093.8 216.9L1108.9 228.6L1124.1 241L1139.3 254.2L1159.6 273L1174.8 287.9L1195 308.8L1210.2 325.4L1225.4 342.7L1245.6 366.9L1260.8 385.9L1276 405.7L1291.2 426.4L1306.4 448L1321.6 470.6L1336.8 494.4L1351.9 519.5L1367.1 546.2L1377.2 565.1L1387.4 585L1397.5 606.2L1397.5 854L911.5 854z"/>
<path fill="#ff6000" d="M911.5 157.2L926.7 158.4L941.9 160.6L957.1 163.7L972.2 167.7L987.4 172.7L1002.6 178.5L1017.8 185.3L1033 192.9L1048.2 201.4L1063.4 210.8L1078.6 220.9L1088.7 228.2L1098.8 235.7L1114 247.8L1129.2 260.6L1144.4 274.1L1164.6 293.3L1184.9 313.9L1200.1 330.1L1215.2 347.1L1230.4 364.9L1250.7 389.8L1265.9 409.4L1281.1 429.9L1296.2 451.3L1311.4 473.8L1326.6 497.5L1341.8 522.5L1351.9 540.1L1367.1 568.1L1377.2 588.1L1387.4 609.4L1397.5 632.3L1397.5 854L911.5 854z"/>
<path fill="#ff5000" d="M911.5 172.8L926.7 174.1L941.9 176.2L957.1 179.3L972.2 183.4L987.4 188.4L1002.6 194.2L1017.8 201L1027.9 206.1L1038.1 211.5L1053.2 220.3L1068.4 230L1083.6 240.5L1093.8 247.9L1103.9 255.7L1119.1 268.1L1134.2 281.2L1149.4 295.2L1159.6 304.9L1169.7 314.9L1189.9 336L1205.1 352.7L1225.4 376.2L1240.6 394.8L1250.7 407.7L1260.8 420.9L1276 441.6L1291.2 463.2L1306.4 486L1321.6 510.1L1331.7 526.9L1346.9 553.7L1357 572.7L1367.1 592.8L1377.2 614.2L1387.4 637.4L1392.4 649.8L1397.5 662.8L1397.5 854L911.5 854z"/>
<path fill="#ff4000" d="M911.5 189.5L926.7 190.7L941.9 192.9L957.1 196L967.2 198.6L977.3 201.7L992.5 207L1007.7 213.2L1022.9 220.3L1033 225.6L1043.1 231.2L1058.3 240.4L1073.5 250.4L1088.7 261.2L1098.8 268.9L1108.9 277L1124.1 289.7L1134.2 298.7L1144.4 308L1154.5 317.6L1164.6 327.6L1179.8 343.2L1189.9 354.1L1200.1 365.3L1215.2 382.9L1225.4 395L1235.5 407.6L1250.7 427.1L1265.9 447.6L1281.1 469.2L1296.2 491.9L1311.4 516L1326.6 541.6L1336.8 559.8L1346.9 578.9L1351.9 588.9L1362.1 609.9L1372.2 632.5L1382.3 657.2L1387.4 670.6L1392.4 684.8L1397.5 700.2L1397.5 854L911.5 854z"/>
<path fill="#ff3000" d="M911.5 207.4L926.7 208.6L941.9 210.8L957.1 213.9L967.2 216.6L977.3 219.6L992.5 225L1002.6 229L1012.8 233.5L1027.9 241L1038.1 246.5L1048.2 252.3L1063.4 261.9L1073.5 268.7L1083.6 275.9L1098.8 287.4L1108.9 295.5L1119.1 304L1134.2 317.5L1144.4 326.9L1154.5 336.7L1164.6 346.8L1174.8 357.3L1189.9 373.8L1200.1 385.2L1210.2 397L1225.4 415.5L1235.5 428.3L1245.6 441.6L1260.8 462.4L1276 484.3L1291.2 507.4L1306.4 532.1L1321.6 558.5L1331.7 577.4L1336.8 587.2L1346.9 607.8L1357 630L1367.1 654.3L1372.2 667.4L1377.2 681.3L1382.3 696.2L1387.4 712.5L1392.4 730.4L1397.5 750.9L1397.5 854L911.5 854z"/>
<path fill="#ff2000" d="M911.5 226.7L926.7 227.9L936.8 229.3L946.9 231.1L957.1 233.3L967.2 235.9L977.3 239L987.4 242.5L997.6 246.4L1007.7 250.7L1017.8 255.4L1027.9 260.5L1038.1 266.1L1048.2 272L1058.3 278.3L1068.4 285L1078.6 292.1L1088.7 299.6L1098.8 307.4L1108.9 315.7L1119.1 324.3L1129.2 333.3L1139.3 342.7L1149.4 352.4L1159.6 362.5L1169.7 373L1179.8 383.9L1189.9 395.2L1200.1 406.9L1210.2 419L1225.4 438L1235.5 451.2L1245.6 464.9L1260.8 486.4L1270.9 501.5L1281.1 517.1L1296.2 542L1311.4 568.8L1321.6 587.9L1331.7 608.3L1336.8 619.1L1346.9 642L1351.9 654.3L1357 667.2L1362.1 681L1367.1 695.8L1372.2 711.9L1377.2 729.6L1382.3 749.8L1387.4 773.8L1392.4 805.7L1396.5 854L1397.5 854L1397.5 854L911.5 854z"/>
<path fill="#ff1000" d="M911.5 247.6L926.7 248.9L936.8 250.3L946.9 252.1L962.1 255.6L972.2 258.5L982.4 261.8L997.6 267.5L1007.7 271.9L1017.8 276.7L1027.9 281.8L1038.1 287.4L1048.2 293.4L1058.3 299.8L1073.5 310.2L1083.6 317.5L1093.8 325.3L1103.9 333.5L1114 342.1L1124.1 351L1134.2 360.4L1144.4 370.1L1154.5 380.3L1164.6 390.8L1174.8 401.7L1184.9 413.1L1195 424.9L1210.2 443.4L1225.4 463L1240.6 483.8L1255.8 505.8L1270.9 529.3L1286.1 554.5L1296.2 572.5L1306.4 591.5L1311.4 601.5L1321.6 622.6L1331.7 645.5L1336.8 657.8L1341.8 670.8L1346.9 684.6L1351.9 699.5L1357 715.7L1362.1 733.7L1367.1 754.3L1372.2 779.2L1377.2 813.5L1380.4 854L1397.5 854L1397.5 854L911.5 854z"/>
<path fill="#f00" d="M911.5 270.6L926.7 271.9L941.9 274.2L957.1 277.4L967.2 280.1L977.3 283.2L992.5 288.7L1002.6 292.9L1012.8 297.5L1027.9 305.3L1038.1 310.9L1048.2 317L1063.4 326.9L1073.5 334L1083.6 341.5L1093.8 349.5L1103.9 357.8L1119.1 371.1L1129.2 380.4L1139.3 390.2L1154.5 405.6L1164.6 416.4L1174.8 427.7L1189.9 445.5L1200.1 457.9L1210.2 470.9L1225.4 491.3L1235.5 505.7L1245.6 520.7L1260.8 544.6L1276 570.3L1286.1 588.8L1291.2 598.5L1301.3 618.9L1306.4 629.7L1316.5 652.9L1321.6 665.4L1326.6 678.7L1331.7 692.9L1336.8 708.3L1341.8 725.1L1346.9 744.2L1351.9 766.4L1357 794.5L1362.1 841.5L1362.7 854L1397.5 854L1397.5 854L911.5 854z"/>
<path fill="#ef0000" d="M911.5 296.1L926.7 297.4L941.9 299.7L957.1 302.9L972.2 307.2L987.4 312.5L1002.6 318.7L1017.8 325.9L1027.9 331.3L1038.1 337.1L1053.2 346.5L1063.4 353.3L1073.5 360.6L1088.7 372.3L1103.9 384.9L1114 393.9L1124.1 403.3L1139.3 418.3L1154.5 434.2L1169.7 451.2L1179.8 463.2L1189.9 475.7L1205.1 495.4L1215.2 509.3L1225.4 523.9L1240.6 547.2L1250.7 563.7L1255.8 572.3L1265.9 590.4L1270.9 599.9L1281.1 619.9L1286.1 630.5L1296.2 653.2L1301.3 665.5L1306.4 678.5L1311.4 692.4L1316.5 707.4L1321.6 723.9L1326.6 742.4L1331.7 763.9L1336.8 790.7L1341.8 832.1L1343.1 854L1397.5 854L1397.5 854L911.5 854z"/>
<path fill="#df0000" d="M911.5 324.6L921.6 325.4L936.8 327.4L952 330.4L967.2 334.4L982.4 339.4L997.6 345.5L1012.8 352.5L1027.9 360.6L1043.1 369.6L1058.3 379.6L1073.5 390.7L1088.7 402.7L1103.9 415.8L1119.1 429.9L1134.2 445L1144.4 455.7L1154.5 467L1164.6 478.7L1179.8 497.4L1189.9 510.7L1200.1 524.6L1215.2 546.7L1225.4 562.5L1230.4 570.8L1240.6 588.1L1245.6 597.1L1255.8 616.2L1260.8 626.4L1270.9 648L1276 659.6L1281.1 671.9L1286.1 685L1291.2 699L1296.2 714.3L1301.3 731.1L1306.4 750.3L1311.4 772.9L1316.5 802.3L1321.2 854L1397.5 854L1397.5 854L911.5 854z"/>
<path fill="#cf0000" d="M911.5 357L926.7 358.4L941.9 360.7L957.1 364.2L967.2 367.1L977.3 370.4L992.5 376.3L1002.6 380.7L1012.8 385.7L1027.9 394L1043.1 403.3L1053.2 410.1L1063.4 417.4L1078.6 429.2L1093.8 442.1L1108.9 456.2L1124.1 471.3L1139.3 487.7L1154.5 505.4L1169.7 524.5L1184.9 545.2L1195 560L1205.1 575.7L1210.2 583.9L1220.3 601.2L1230.4 619.7L1240.6 639.8L1250.7 661.9L1255.8 673.9L1260.8 686.6L1265.9 700.3L1270.9 715.2L1276 731.6L1281.1 750.2L1286.1 772.1L1291.2 800.2L1296.3 854L1397.5 854L1397.5 854L911.5 854z"/>
<path fill="#bf0000" d="M911.5 394.4L921.6 395.2L926.7 395.8L941.9 398.3L957.1 401.9L972.2 406.5L987.4 412.3L1002.6 419.1L1017.8 427L1033 436.1L1048.2 446.2L1063.4 457.5L1078.6 470L1093.8 483.7L1108.9 498.6L1124.1 514.9L1139.3 532.7L1149.4 545.4L1159.6 558.9L1164.6 566L1174.8 580.8L1184.9 596.6L1189.9 604.9L1200.1 622.5L1210.2 641.7L1220.3 662.8L1225.4 674.2L1230.4 686.3L1235.5 699.3L1240.6 713.4L1245.6 728.9L1250.7 746.3L1255.8 766.5L1260.8 791.6L1265.9 829L1267.6 854L1397.5 854L1397.5 854L911.5 854z"/>
<path fill="#af0000" d="M911.5 438.5L921.6 439.4L926.7 440L936.8 441.6L941.9 442.6L952 445L957.1 446.4L967.2 449.5L977.3 453.2L982.4 455.2L997.6 462.1L1012.8 470.1L1022.9 476.2L1038.1 486.2L1053.2 497.5L1068.4 510.2L1078.6 519.4L1093.8 534.3L1103.9 545.2L1114 556.7L1119.1 562.8L1129.2 575.6L1139.3 589.2L1144.4 596.5L1154.5 611.7L1164.6 628.2L1174.8 646.2L1184.9 666L1189.9 676.7L1195 688.1L1200.1 700.4L1205.1 713.6L1210.2 728.1L1215.2 744.3L1220.3 762.9L1225.4 785.5L1230.4 816.3L1233.7 854L1397.5 854L1397.5 854L911.5 854z"/>
<path fill="#9f0000" d="M911.5 491.9L921.6 492.8L926.7 493.5L936.8 495.3L946.9 497.6L952 498.9L962.1 502.1L972.2 505.8L977.3 507.9L987.4 512.4L997.6 517.6L1007.7 523.3L1017.8 529.7L1022.9 533.1L1033 540.4L1043.1 548.4L1053.2 557.1L1063.4 566.4L1068.4 571.4L1078.6 582L1088.7 593.4L1098.8 605.7L1108.9 619.1L1119.1 633.6L1129.2 649.5L1134.2 658.1L1139.3 667.1L1144.4 676.7L1149.4 686.8L1154.5 697.6L1159.6 709.2L1164.6 721.8L1169.7 735.7L1174.8 751.3L1179.8 769.3L1184.9 791.3L1189.9 822.2L1192.7 854L1397.5 854L1397.5 854L911.5 854z"/>
<path fill="#8f0000" d="M911.5 559L921.6 560.1L931.8 561.8L941.9 564.1L952 567.1L962.1 570.7L972.2 575L982.4 580L992.5 585.7L1002.6 592.2L1012.8 599.4L1022.9 607.4L1033 616.3L1043.1 626.1L1053.2 636.9L1063.4 648.9L1068.4 655.4L1078.6 669.4L1083.6 677L1088.7 685L1093.8 693.6L1098.8 702.8L1103.9 712.6L1108.9 723.3L1114 735L1119.1 747.9L1124.1 762.6L1129.2 779.7L1134.2 801L1139.3 832.6L1141.1 854L1397.5 854L1397.5 854L911.5 854z"/>
<path fill="#800000" d="M911.5 650.4L921.6 651.8L926.7 652.8L936.8 655.5L941.9 657.2L952 661.2L957.1 663.5L967.2 669L977.3 675.4L982.4 679.1L992.5 687.2L997.6 691.8L1002.6 696.7L1007.7 702L1012.8 707.7L1017.8 713.8L1022.9 720.4L1027.9 727.6L1033 735.3L1038.1 743.9L1043.1 753.3L1048.2 763.9L1053.2 775.9L1058.3 790L1063.4 807.4L1068.4 832.4L1070.9 854L1397.5 854L1397.5 854L911.5 854z"/>
</g>
<line x1="154" x2="641" y1="46.5" y2="46.5" class="f1"/>
<line x1="154" x2="641" y1="854" y2="854" class="f2"/>
<line x1="154.5" x2="154.5" y1="46.5" y2="854" class="f3"/>
<line x1="911" x2="1398" y1="46.5" y2="46.5" class="f1"/>
<line x1="911" x2="1398" y1="854" y2="854" class="f2"/>
<line x1="911.5" x2="911.5" y1="46.5" y2="854" class="f3"/>
<rect x="659" y="48.5" width="35.6" height="805" class="fr"/>
<rect x="1416.5" y="48.5" width="36.5" height="805" class="fr"/>
<text x="87.5" y="97.5" font-size="32">0.8</text>
<text x="87.5" y="199" font-size="32">0.7</text>
<text x="87.5" y="294.7" font-size="32">0.6</text>
<text x="87.5" y="392.4" font-size="32">0.5</text>
<text x="87.5" y="489.7" font-size="32">0.4</text>
<text x="87.5" y="586.1" font-size="32">0.3</text>
<text x="87.5" y="682.8" font-size="32">0.2</text>
<text x="87.5" y="780" font-size="32">0.1</text>
<text x="845.8" y="102.3" font-size="32">0.8</text>
<text x="845.8" y="203.6" font-size="32">0.7</text>
<text x="845.8" y="301.1" font-size="32">0.6</text>
<text x="845.8" y="397.6" font-size="32">0.5</text>
<text x="845.8" y="495.4" font-size="32">0.4</text>
<text x="845.8" y="592" font-size="32">0.3</text>
<text x="845.8" y="689.1" font-size="32">0.2</text>
<text x="845.8" y="785.5" font-size="32">0.1</text>
<text x="185.3" y="900.5" font-size="32">0.1</text>
<text x="298.7" y="902.4" font-size="32">0.3</text>
<text x="417.8" y="903.8" font-size="32">0.5</text>
<text x="535.5" y="900.5" font-size="32">0.7</text>
<text x="951" y="900.5" font-size="32">0.1</text>
<text x="1063.7" y="903.1" font-size="32">0.3</text>
<text x="1183.5" y="904.8" font-size="32">0.5</text>
<text x="1300.5" y="901.4" font-size="32">0.7</text>
<text x="704.5" y="125" font-size="25.5">1080</text>
<text x="704.5" y="199" font-size="25.5">1070</text>
<text x="704.5" y="273" font-size="25.5">1060</text>
<text x="704.5" y="347" font-size="25.5">1050</text>
<text x="704.5" y="421" font-size="25.5">1040</text>
<text x="704.5" y="495" font-size="25.5">1030</text>
<text x="704.5" y="569" font-size="25.5">1020</text>
<text x="704.5" y="643" font-size="25.5">1010</text>
<text x="704.5" y="717" font-size="25.5">1000</text>
<text x="703.3" y="791" font-size="25.5">990</text>
<text x="1460.3" y="57.5" font-size="25.5">0</text>
<text x="1460.3" y="219.3" font-size="25.5">-5</text>
<text x="1460.3" y="380" font-size="25.5">-10</text>
<text x="1460.3" y="540.7" font-size="25.5">-15</text>
<text x="1460.3" y="701.5" font-size="25.5">-20</text>
<text x="1460.3" y="862.5" font-size="25.5">-25</text>
<line x1="688.5" x2="694.5" y1="115" y2="115"/>
<line x1="688.5" x2="694.5" y1="189.1" y2="189.1"/>
<line x1="688.5" x2="694.5" y1="263.2" y2="263.2"/>
<line x1="688.5" x2="694.5" y1="337.3" y2="337.3"/>
<line x1="688.5" x2="694.5" y1="411.4" y2="411.4"/>
<line x1="688.5" x2="694.5" y1="485.5" y2="485.5"/>
<line x1="688.5" x2="694.5" y1="559.6" y2="559.6"/>
<line x1="688.5" x2="694.5" y1="633.7" y2="633.7"/>
<line x1="688.5" x2="694.5" y1="707.8" y2="707.8"/>
<line x1="688.5" x2="694.5" y1="781.9" y2="781.9"/>
<line x1="1446.5" x2="1452.5" y1="48.8" y2="48.8"/>
<line x1="1446.5" x2="1452.5" y1="209.7" y2="209.7"/>
<line x1="1446.5" x2="1452.5" y1="370.6" y2="370.6"/>
<line x1="1446.5" x2="1452.5" y1="531.5" y2="531.5"/>
<line x1="1446.5" x2="1452.5" y1="692.4" y2="692.4"/>
<line x1="1446.5" x2="1452.5" y1="853.3" y2="853.3"/>
<text transform="translate(2.5 440) scale(1.1 1)" font-size="44" font-style="italic">m</text>
<text x="34.5" y="452.7" font-size="28" font-style="italic">&#954;</text>
<text x="48" y="459.5" font-size="20">2</text>
<text transform="translate(776 431.5) scale(1.1 1)" font-size="44" font-style="italic">m</text>
<text x="808" y="444.2" font-size="28" font-style="italic">&#954;</text>
<text x="821.5" y="451" font-size="20">2</text>
<text transform="translate(377 944.8) scale(1.1 1)" font-size="44" font-style="italic">m</text>
<text x="409" y="957.5" font-size="28" font-style="italic">&#954;</text>
<text x="421.5" y="964.1" font-size="17.5">1</text>
<text transform="translate(1157 944.8) scale(1.1 1)" font-size="44" font-style="italic">m</text>
<text x="1189" y="957.5" font-size="28" font-style="italic">&#954;</text>
<text x="1201.5" y="964.1" font-size="17.5">1</text>
<text x="374.3" y="1008" font-size="36">(a)</text>
<text x="1159.3" y="1008" font-size="36.5">(b)</text>
<text transform="translate(296 26.7) scale(1.25 1)" font-size="31" font-style="italic">&#946;</text>
<text x="316.5" y="35.5" font-size="20" font-style="italic">LW</text>
<text transform="translate(351.2 27.8) scale(0.94 1)" font-size="34">@</text>
<text x="383.8" y="26.8" font-size="31">32.05</text>
<text x="454.3" y="26.8" font-size="31" font-style="italic" textLength="58.5">GHz</text>
<text transform="translate(1059 26.2) scale(1.18 1)" font-size="33" font-style="italic">&#945;</text>
<text x="1078.5" y="34.6" font-size="20" font-style="italic">LW</text>
<text transform="translate(1113.4 26.3) scale(0.94 1)" font-size="34">@</text>
<text x="1146.3" y="25.6" font-size="31">32.05</text>
<text x="1218" y="25.6" font-size="31" font-style="italic">GHz</text>
</svg>
</body></html>
